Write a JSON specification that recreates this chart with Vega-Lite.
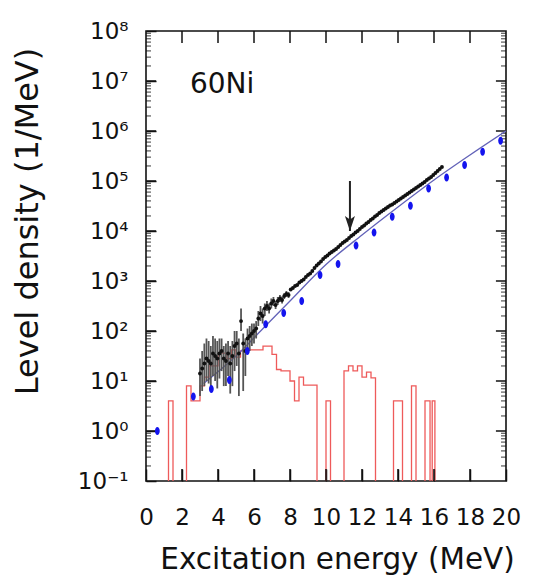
{
  "$schema": "https://vega.github.io/schema/vega-lite/v6.json",
  "width": 360,
  "height": 450,
  "autosize": {"type": "none"},
  "padding": {"left": 146, "top": 31, "right": 27, "bottom": 102},
  "background": "white",
  "config": {
    "view": {"stroke": "#111", "strokeWidth": 1.6},
    "axis": {"domain": false, "grid": false, "labelFont": "DejaVu Sans", "titleFont": "DejaVu Sans", "labelColor": "#111", "titleColor": "#111", "tickColor": "#111", "tickWidth": 1.5, "titleFontWeight": "normal"}
  },
  "datasets": {
    "red": [
      {"E": 1.0, "v": 0.01}, {"E": 1.25, "v": 4}, {"E": 1.5, "v": 0.01}, {"E": 2.25, "v": 8}, {"E": 2.5, "v": 4},
      {"E": 3.0, "v": 8}, {"E": 3.25, "v": 12}, {"E": 3.5, "v": 20}, {"E": 4.0, "v": 36}, {"E": 4.5, "v": 28},
      {"E": 4.75, "v": 42}, {"E": 5.0, "v": 30}, {"E": 5.25, "v": 40}, {"E": 5.5, "v": 45}, {"E": 5.75, "v": 42},
      {"E": 6.5, "v": 50}, {"E": 7.0, "v": 34}, {"E": 7.25, "v": 17}, {"E": 7.5, "v": 16}, {"E": 8.0, "v": 10},
      {"E": 8.25, "v": 4}, {"E": 8.5, "v": 12}, {"E": 8.75, "v": 8.3}, {"E": 9.5, "v": 0.01}, {"E": 10.0, "v": 4},
      {"E": 10.25, "v": 0.01}, {"E": 11.0, "v": 16}, {"E": 11.25, "v": 20}, {"E": 11.5, "v": 16}, {"E": 11.75, "v": 20},
      {"E": 12.0, "v": 12}, {"E": 12.25, "v": 15}, {"E": 12.5, "v": 11.5}, {"E": 12.75, "v": 0.01}, {"E": 13.75, "v": 4},
      {"E": 14.25, "v": 0.01}, {"E": 14.75, "v": 8}, {"E": 15.0, "v": 0.01}, {"E": 15.5, "v": 4}, {"E": 15.78, "v": 0.01},
      {"E": 15.9, "v": 4}, {"E": 16.05, "v": 0.01}, {"E": 16.5, "v": 0.01}
    ],
    "fit": [
      {"E": 3.2, "v": 8.9}, {"E": 5.0, "v": 31.6}, {"E": 6.5, "v": 112}, {"E": 8.0, "v": 398}, {"E": 10.0, "v": 2138},
      {"E": 12.0, "v": 8318}, {"E": 14.0, "v": 30200}, {"E": 16.0, "v": 104713}, {"E": 18.0, "v": 331131}, {"E": 20.0, "v": 1000000}
    ],
    "blue": [
      {"E": 0.63, "v": 1}, {"E": 2.63, "v": 4.9}, {"E": 3.63, "v": 6.9}, {"E": 4.63, "v": 10.5}, {"E": 5.63, "v": 40},
      {"E": 6.65, "v": 136}, {"E": 7.65, "v": 230}, {"E": 8.65, "v": 400}, {"E": 9.67, "v": 1320}, {"E": 10.67, "v": 2190},
      {"E": 11.67, "v": 5100}, {"E": 12.67, "v": 9300}, {"E": 13.68, "v": 19300}, {"E": 14.69, "v": 32000}, {"E": 15.7, "v": 71000},
      {"E": 16.7, "v": 118000}, {"E": 17.7, "v": 209000}, {"E": 18.7, "v": 386000}, {"E": 19.7, "v": 640000}
    ],
    "err": [
      {"E": 3.00, "lo": 5.0, "hi": 28.2}, {"E": 3.12, "lo": 6.3, "hi": 39.8}, {"E": 3.24, "lo": 7.9, "hi": 56.2},
      {"E": 3.36, "lo": 10, "hi": 70.8}, {"E": 3.48, "lo": 8.9, "hi": 63.1}, {"E": 3.60, "lo": 7.9, "hi": 50.1},
      {"E": 3.72, "lo": 12.6, "hi": 79.4}, {"E": 3.84, "lo": 10, "hi": 70.8}, {"E": 3.96, "lo": 7.1, "hi": 63.1},
      {"E": 4.08, "lo": 11.2, "hi": 70.8}, {"E": 4.20, "lo": 15.8, "hi": 70.8}, {"E": 4.32, "lo": 7.9, "hi": 50.1},
      {"E": 4.44, "lo": 7.9, "hi": 56.2}, {"E": 4.56, "lo": 12.6, "hi": 63.1}, {"E": 4.68, "lo": 5.6, "hi": 50.1},
      {"E": 4.80, "lo": 7.9, "hi": 63.1}, {"E": 4.92, "lo": 15.8, "hi": 100}, {"E": 5.04, "lo": 20, "hi": 100},
      {"E": 5.16, "lo": 5.0, "hi": 70.8}, {"E": 5.28, "lo": 100, "hi": 282}, {"E": 5.40, "lo": 6.3, "hi": 89.1},
      {"E": 5.52, "lo": 12.6, "hi": 70.8}, {"E": 5.64, "lo": 35.5, "hi": 112}, {"E": 5.76, "lo": 39.8, "hi": 126},
      {"E": 5.88, "lo": 50.1, "hi": 141}, {"E": 6.00, "lo": 56.2, "hi": 141}, {"E": 6.12, "lo": 70.8, "hi": 158},
      {"E": 6.24, "lo": 126, "hi": 251}, {"E": 6.36, "lo": 158, "hi": 316}, {"E": 6.48, "lo": 141, "hi": 282},
      {"E": 6.60, "lo": 200, "hi": 355}, {"E": 6.72, "lo": 251, "hi": 398}, {"E": 6.84, "lo": 224, "hi": 355},
      {"E": 6.96, "lo": 282, "hi": 447}, {"E": 7.08, "lo": 316, "hi": 479}, {"E": 7.20, "lo": 275, "hi": 398},
      {"E": 7.32, "lo": 331, "hi": 479}, {"E": 7.44, "lo": 380, "hi": 525}, {"E": 7.56, "lo": 355, "hi": 490},
      {"E": 7.68, "lo": 437, "hi": 575}, {"E": 7.80, "lo": 479, "hi": 631}, {"E": 7.92, "lo": 457, "hi": 603}
    ],
    "black": [
      {"E": 3.00, "v": 14.1}, {"E": 3.12, "v": 17.8}, {"E": 3.24, "v": 22.4}, {"E": 3.36, "v": 28.2}, {"E": 3.48, "v": 25.1},
      {"E": 3.60, "v": 22.4}, {"E": 3.72, "v": 35.5}, {"E": 3.84, "v": 31.6}, {"E": 3.96, "v": 28.2}, {"E": 4.08, "v": 35.5},
      {"E": 4.20, "v": 39.8}, {"E": 4.32, "v": 28.2}, {"E": 4.44, "v": 25.1}, {"E": 4.56, "v": 35.5}, {"E": 4.68, "v": 22.4},
      {"E": 4.80, "v": 31.6}, {"E": 4.92, "v": 50.1}, {"E": 5.04, "v": 56.2}, {"E": 5.16, "v": 35.5}, {"E": 5.28, "v": 158},
      {"E": 5.40, "v": 56.2}, {"E": 5.52, "v": 39.8}, {"E": 5.64, "v": 70.8}, {"E": 5.76, "v": 79.4}, {"E": 5.88, "v": 89.1},
      {"E": 6.00, "v": 100}, {"E": 6.12, "v": 112}, {"E": 6.24, "v": 178}, {"E": 6.36, "v": 224}, {"E": 6.48, "v": 200},
      {"E": 6.60, "v": 282}, {"E": 6.72, "v": 316}, {"E": 6.84, "v": 282}, {"E": 6.96, "v": 355}, {"E": 7.08, "v": 398},
      {"E": 7.20, "v": 331}, {"E": 7.32, "v": 398}, {"E": 7.44, "v": 447}, {"E": 7.56, "v": 417}, {"E": 7.68, "v": 501},
      {"E": 7.80, "v": 550}, {"E": 7.92, "v": 525}, {"E": 8.04, "v": 676}, {"E": 8.16, "v": 724}, {"E": 8.28, "v": 794},
      {"E": 8.40, "v": 832}, {"E": 8.52, "v": 933}, {"E": 8.64, "v": 1000}, {"E": 8.76, "v": 1072}, {"E": 8.88, "v": 1202},
      {"E": 9.00, "v": 1318}, {"E": 9.12, "v": 1413}, {"E": 9.24, "v": 1585}, {"E": 9.36, "v": 1820}, {"E": 9.48, "v": 2042},
      {"E": 9.60, "v": 2239}, {"E": 9.72, "v": 2455}, {"E": 9.84, "v": 2754}, {"E": 9.96, "v": 3020}, {"E": 10.08, "v": 3236},
      {"E": 10.20, "v": 3548}, {"E": 10.32, "v": 3802}, {"E": 10.44, "v": 4074}, {"E": 10.56, "v": 4365}, {"E": 10.68, "v": 4786},
      {"E": 10.80, "v": 5248}, {"E": 10.92, "v": 5754}, {"E": 11.04, "v": 6166}, {"E": 11.16, "v": 6607}, {"E": 11.28, "v": 7244},
      {"E": 11.40, "v": 7943}, {"E": 11.52, "v": 8511}, {"E": 11.64, "v": 9333}, {"E": 11.76, "v": 10000}, {"E": 11.88, "v": 10965},
      {"E": 12.00, "v": 12023}, {"E": 12.12, "v": 12882}, {"E": 12.24, "v": 14125}, {"E": 12.36, "v": 15136}, {"E": 12.48, "v": 16596},
      {"E": 12.60, "v": 17783}, {"E": 12.72, "v": 19498}, {"E": 12.84, "v": 20893}, {"E": 12.96, "v": 22909}, {"E": 13.08, "v": 24547},
      {"E": 13.20, "v": 26303}, {"E": 13.32, "v": 28184}, {"E": 13.44, "v": 30200}, {"E": 13.56, "v": 32359}, {"E": 13.68, "v": 33884},
      {"E": 13.80, "v": 36308}, {"E": 13.92, "v": 38905}, {"E": 14.04, "v": 41687}, {"E": 14.16, "v": 44668}, {"E": 14.28, "v": 47863},
      {"E": 14.40, "v": 51286}, {"E": 14.52, "v": 54954}, {"E": 14.64, "v": 58884}, {"E": 14.76, "v": 63096}, {"E": 14.88, "v": 67608},
      {"E": 15.00, "v": 72444}, {"E": 15.12, "v": 77625}, {"E": 15.24, "v": 83176}, {"E": 15.36, "v": 89125}, {"E": 15.48, "v": 95499},
      {"E": 15.60, "v": 104713}, {"E": 15.72, "v": 112202}, {"E": 15.84, "v": 120226}, {"E": 15.96, "v": 131826}, {"E": 16.08, "v": 144544},
      {"E": 16.20, "v": 158489}, {"E": 16.32, "v": 173780}, {"E": 16.44, "v": 190546}
    ],
    "arrow": [{"E": 11.33, "top": 100000, "tip": 10000}],
    "label": [{"E": 2.44, "v": 5750000, "t": "60Ni"}],
    "xt": [
      {"t": 2, "a": 0.1, "b": 0.174}, {"t": 4, "a": 0.1, "b": 0.174}, {"t": 6, "a": 0.1, "b": 0.174}, {"t": 8, "a": 0.1, "b": 0.174}, {"t": 10, "a": 0.1, "b": 0.174},
      {"t": 12, "a": 0.1, "b": 0.174}, {"t": 14, "a": 0.1, "b": 0.174}, {"t": 16, "a": 0.1, "b": 0.174}, {"t": 18, "a": 0.1, "b": 0.174},
      {"t": 2, "a": 100000000, "b": 57500000}, {"t": 4, "a": 100000000, "b": 57500000}, {"t": 6, "a": 100000000, "b": 57500000}, {"t": 8, "a": 100000000, "b": 57500000}, {"t": 10, "a": 100000000, "b": 57500000},
      {"t": 12, "a": 100000000, "b": 57500000}, {"t": 14, "a": 100000000, "b": 57500000}, {"t": 16, "a": 100000000, "b": 57500000}, {"t": 18, "a": 100000000, "b": 57500000}
    ],
    "ytmaj": [
      {"t": 1, "a": 0, "b": 0.56}, {"t": 10, "a": 0, "b": 0.56}, {"t": 100, "a": 0, "b": 0.56}, {"t": 1000, "a": 0, "b": 0.56},
      {"t": 10000, "a": 0, "b": 0.56}, {"t": 100000, "a": 0, "b": 0.56}, {"t": 1000000, "a": 0, "b": 0.56}, {"t": 10000000, "a": 0, "b": 0.56},
      {"t": 1, "a": 20, "b": 19.44}, {"t": 10, "a": 20, "b": 19.44}, {"t": 100, "a": 20, "b": 19.44}, {"t": 1000, "a": 20, "b": 19.44},
      {"t": 10000, "a": 20, "b": 19.44}, {"t": 100000, "a": 20, "b": 19.44}, {"t": 1000000, "a": 20, "b": 19.44}, {"t": 10000000, "a": 20, "b": 19.44}
    ],
    "ytmin": [
      {"t": 0.2}, {"t": 0.3}, {"t": 0.4}, {"t": 0.5}, {"t": 0.6}, {"t": 0.7}, {"t": 0.8}, {"t": 0.9},
      {"t": 2}, {"t": 3}, {"t": 4}, {"t": 5}, {"t": 6}, {"t": 7}, {"t": 8}, {"t": 9},
      {"t": 20}, {"t": 30}, {"t": 40}, {"t": 50}, {"t": 60}, {"t": 70}, {"t": 80}, {"t": 90},
      {"t": 200}, {"t": 300}, {"t": 400}, {"t": 500}, {"t": 600}, {"t": 700}, {"t": 800}, {"t": 900},
      {"t": 2000}, {"t": 3000}, {"t": 4000}, {"t": 5000}, {"t": 6000}, {"t": 7000}, {"t": 8000}, {"t": 9000},
      {"t": 20000}, {"t": 30000}, {"t": 40000}, {"t": 50000}, {"t": 60000}, {"t": 70000}, {"t": 80000}, {"t": 90000},
      {"t": 200000}, {"t": 300000}, {"t": 400000}, {"t": 500000}, {"t": 600000}, {"t": 700000}, {"t": 800000}, {"t": 900000},
      {"t": 2000000}, {"t": 3000000}, {"t": 4000000}, {"t": 5000000}, {"t": 6000000}, {"t": 7000000}, {"t": 8000000}, {"t": 9000000},
      {"t": 20000000}, {"t": 30000000}, {"t": 40000000}, {"t": 50000000}, {"t": 60000000}, {"t": 70000000}, {"t": 80000000}, {"t": 90000000}
    ]
  },
  "layer": [
    {
      "data": {"name": "red"},
      "mark": {"type": "line", "interpolate": "step-after", "color": "#ee5a5a", "strokeWidth": 1.3, "clip": true},
      "encoding": {
        "x": {"field": "E", "type": "quantitative", "scale": {"domain": [0, 20], "nice": false, "zero": false},
          "axis": {"orient": "bottom", "offset": -12, "values": [0, 2, 4, 6, 8, 10, 12, 14, 16, 18, 20], "tickSize": 12, "labelPadding": 25, "labelFontSize": 23, "labelOverlap": false, "labelFlush": false, "labelBound": false,
            "title": "Excitation energy (MeV)", "titleFontSize": 29.5, "titleX": 191, "titleY": 99, "titleBaseline": "alphabetic", "titleAlign": "center", "titleAngle": 0}},
        "y": {"field": "v", "type": "quantitative", "scale": {"type": "log", "domain": [0.1, 100000000], "nice": false},
          "axis": {"orient": "left", "offset": -10, "values": [0.1, 1, 10, 100, 1000, 10000, 100000, 1000000, 10000000, 100000000], "tickSize": 10, "labelPadding": 18, "labelFontSize": 23, "labelAlign": "right", "labelBaseline": "middle", "labelOverlap": false, "labelFlush": false, "labelBound": false,
            "labelExpr": "'10' + ['⁻¹','⁰','¹','²','³','⁴','⁵','⁶','⁷','⁸'][round(log(datum.value)/LN10)+1]",
            "title": "Level density (1/MeV)", "titleFontSize": 32, "titleX": -119, "titleY": 190, "titleBaseline": "alphabetic", "titleAlign": "center", "titleAngle": 270}}
      }
    },
    {
      "data": {"name": "xt"},
      "mark": {"type": "rule", "color": "#111", "strokeWidth": 1.5},
      "encoding": {
        "x": {"field": "t", "type": "quantitative", "scale": {"domain": [0, 20], "nice": false, "zero": false}, "axis": null},
        "y": {"field": "a", "type": "quantitative", "scale": {"type": "log", "domain": [0.1, 100000000], "nice": false}, "axis": null},
        "y2": {"field": "b"}
      }
    },
    {
      "data": {"name": "ytmaj"},
      "mark": {"type": "rule", "color": "#111", "strokeWidth": 1.5},
      "encoding": {
        "y": {"field": "t", "type": "quantitative", "scale": {"type": "log", "domain": [0.1, 100000000], "nice": false}, "axis": null},
        "x": {"field": "a", "type": "quantitative", "scale": {"domain": [0, 20], "nice": false, "zero": false}, "axis": null},
        "x2": {"field": "b"}
      }
    },
    {
      "data": {"name": "ytmin"},
      "mark": {"type": "tick", "orient": "horizontal", "color": "#111", "size": 10, "thickness": 1.2, "clip": true},
      "encoding": {
        "y": {"field": "t", "type": "quantitative", "scale": {"type": "log", "domain": [0.1, 100000000], "nice": false}, "axis": null},
        "x": {"datum": 0, "type": "quantitative", "scale": {"domain": [0, 20], "nice": false, "zero": false}, "axis": null}
      }
    },
    {
      "data": {"name": "ytmin"},
      "mark": {"type": "tick", "orient": "horizontal", "color": "#111", "size": 10, "thickness": 1.2, "clip": true},
      "encoding": {
        "y": {"field": "t", "type": "quantitative", "scale": {"type": "log", "domain": [0.1, 100000000], "nice": false}, "axis": null},
        "x": {"datum": 20, "type": "quantitative", "scale": {"domain": [0, 20], "nice": false, "zero": false}, "axis": null}
      }
    },
    {
      "data": {"name": "fit"},
      "mark": {"type": "line", "color": "#6262b8", "strokeWidth": 1.3, "interpolate": "monotone", "clip": true},
      "encoding": {
        "x": {"field": "E", "type": "quantitative", "scale": {"domain": [0, 20], "nice": false, "zero": false}, "axis": null},
        "y": {"field": "v", "type": "quantitative", "scale": {"type": "log", "domain": [0.1, 100000000], "nice": false}, "axis": null}
      }
    },
    {
      "data": {"name": "err"},
      "mark": {"type": "rule", "color": "#555", "strokeWidth": 1.8, "clip": true},
      "encoding": {
        "x": {"field": "E", "type": "quantitative", "scale": {"domain": [0, 20], "nice": false, "zero": false}, "axis": null},
        "y": {"field": "lo", "type": "quantitative", "scale": {"type": "log", "domain": [0.1, 100000000], "nice": false}, "axis": null},
        "y2": {"field": "hi"}
      }
    },
    {
      "data": {"name": "black"},
      "mark": {"type": "point", "filled": true, "shape": "circle", "size": 15, "color": "#111", "opacity": 1, "clip": true},
      "encoding": {
        "x": {"field": "E", "type": "quantitative", "scale": {"domain": [0, 20], "nice": false, "zero": false}, "axis": null},
        "y": {"field": "v", "type": "quantitative", "scale": {"type": "log", "domain": [0.1, 100000000], "nice": false}, "axis": null}
      }
    },
    {
      "data": {"name": "blue"},
      "mark": {"type": "point", "filled": true, "shape": "M0,-1A0.6,1,0,1,1,0,1A0.6,1,0,1,1,0,-1Z", "size": 64, "color": "#1414ee", "opacity": 1, "clip": true},
      "encoding": {
        "x": {"field": "E", "type": "quantitative", "scale": {"domain": [0, 20], "nice": false, "zero": false}, "axis": null},
        "y": {"field": "v", "type": "quantitative", "scale": {"type": "log", "domain": [0.1, 100000000], "nice": false}, "axis": null}
      }
    },
    {
      "data": {"name": "arrow"},
      "mark": {"type": "rule", "color": "#222", "strokeWidth": 2},
      "encoding": {
        "x": {"field": "E", "type": "quantitative", "scale": {"domain": [0, 20], "nice": false, "zero": false}, "axis": null},
        "y": {"field": "top", "type": "quantitative", "scale": {"type": "log", "domain": [0.1, 100000000], "nice": false}, "axis": null},
        "y2": {"field": "tip"}
      }
    },
    {
      "data": {"name": "arrow"},
      "mark": {"type": "point", "filled": true, "shape": "M0,0L-0.5,-1.5L0,-1.15L0.5,-1.5Z", "size": 400, "color": "#222", "opacity": 1},
      "encoding": {
        "x": {"field": "E", "type": "quantitative", "scale": {"domain": [0, 20], "nice": false, "zero": false}, "axis": null},
        "y": {"field": "tip", "type": "quantitative", "scale": {"type": "log", "domain": [0.1, 100000000], "nice": false}, "axis": null}
      }
    },
    {
      "data": {"name": "label"},
      "mark": {"type": "text", "font": "DejaVu Sans", "fontSize": 28, "align": "left", "baseline": "alphabetic", "color": "#111"},
      "encoding": {
        "x": {"field": "E", "type": "quantitative", "scale": {"domain": [0, 20], "nice": false, "zero": false}, "axis": null},
        "y": {"field": "v", "type": "quantitative", "scale": {"type": "log", "domain": [0.1, 100000000], "nice": false}, "axis": null},
        "text": {"field": "t"}
      }
    }
  ],
  "resolve": {"axis": {"x": "independent", "y": "independent"}}
}
